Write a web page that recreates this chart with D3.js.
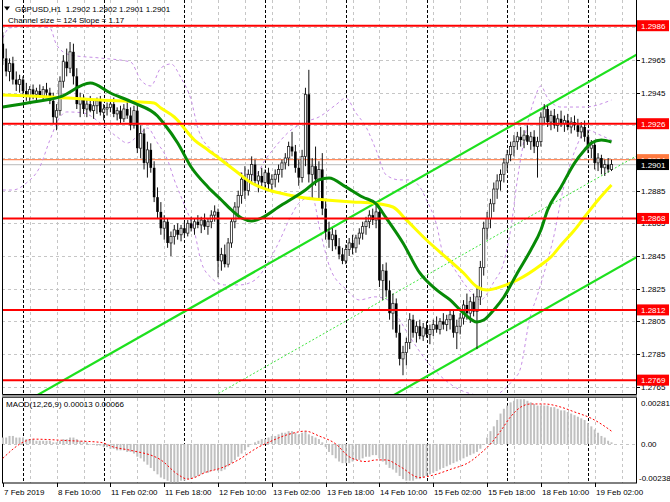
<!DOCTYPE html>
<html><head><meta charset="utf-8">
<script src="https://cdn.jsdelivr.net/npm/d3@7"></script>
<style>
html,body{margin:0;padding:0;background:#fff;}
svg{display:block;font-family:"Liberation Sans",Arial,sans-serif;}
text{white-space:pre;}
</style></head><body>
<svg id="c" width="670" height="502"></svg>
<script>
// ---------------- DATA ----------------
const symbolTitle = "GBPUSD,H1  1.2902 1.2902 1.2901 1.2901";
const channelTitle = "Channel size = 124 Slope = 1.17";
const macdTitle = "MACD(12,26,9) 0.00013 0.00066";

const timeLabels = ["7 Feb 2019","8 Feb 10:00","11 Feb 02:00","11 Feb 18:00","12 Feb 10:00","13 Feb 02:00","13 Feb 18:00","14 Feb 10:00","15 Feb 02:00","15 Feb 18:00","18 Feb 10:00","19 Feb 02:00"];
const timeLabelBars = [0,16,32,48,64,80,96,112,128,144,160,176];
const daySeparatorBars = [6,30,54,78,102,126,150,174];
const priceTicks = [1.2765,1.2785,1.2805,1.2825,1.2845,1.2865,1.2885,1.2905,1.2925,1.2945,1.2965,1.2985];
const levels = [1.2986,1.2926,1.2868,1.2812,1.2769];
const bidPrice = 1.2901, askPrice = 1.2904;
const macdAxisValues = [0.00281, 0, -0.00238];
const macdAxisLabels = ["0.00281","0.00","-0.00238"];

const opens = [
1.2975,1.2966,1.2958,1.2963,1.2953,1.2950,1.2953,1.2946,1.2943,1.2947,
1.2944,1.2946,1.2943,1.2947,1.2945,1.2940,1.2930,1.2934,1.2952,1.2964,
1.2960,1.2970,1.2955,1.2938,1.2941,1.2935,1.2938,1.2934,1.2937,1.2940,
1.2933,1.2935,1.2936,1.2938,1.2932,1.2934,1.2929,1.2935,1.2931,1.2925,
1.2934,1.2911,1.2920,1.2902,1.2910,1.2899,1.2881,1.2872,1.2862,1.2866,
1.2853,1.2857,1.2861,1.2858,1.2862,1.2859,1.2865,1.2862,1.2866,1.2864,
1.2867,1.2863,1.2866,1.2870,1.2872,1.2842,1.2846,1.2840,1.2853,1.2866,
1.2875,1.2882,1.2892,1.2885,1.2895,1.2901,1.2891,1.2894,1.2890,1.2896,
1.2889,1.2892,1.2895,1.2898,1.2902,1.2905,1.2912,1.2909,1.2899,1.2893,
1.2906,1.2944,1.2895,1.2900,1.2892,1.2898,1.2874,1.2860,1.2855,1.2858,
1.2851,1.2846,1.2842,1.2849,1.2853,1.2850,1.2856,1.2859,1.2863,1.2866,
1.2870,1.2867,1.2872,1.2830,1.2836,1.2824,1.2810,1.2816,1.2798,1.2782,
1.2786,1.2792,1.2806,1.2798,1.2802,1.2796,1.2801,1.2797,1.2800,1.2803,
1.2800,1.2805,1.2803,1.2806,1.2809,1.2798,1.2802,1.2807,1.2815,1.2810,
1.2817,1.2811,1.2820,1.2838,1.2862,1.2868,1.2877,1.2886,1.2891,1.2895,
1.2902,1.2907,1.2912,1.2915,1.2918,1.2916,1.2919,1.2915,1.2918,1.2912,
1.2915,1.2930,1.2935,1.2927,1.2931,1.2925,1.2929,1.2926,1.2928,1.2924,
1.2927,1.2925,1.2921,1.2924,1.2918,1.2911,1.2913,1.2902,1.2905,1.2899,
1.2901,1.2898];
const highs = [
1.2982,1.2972,1.2966,1.2967,1.2958,1.2956,1.2955,1.2951,1.2949,1.2950,
1.2948,1.2950,1.2949,1.2951,1.2948,1.2945,1.2938,1.2955,1.2968,1.2972,
1.2976,1.2975,1.2960,1.2945,1.2944,1.2941,1.2943,1.2940,1.2942,1.2943,
1.2938,1.2939,1.2940,1.2942,1.2936,1.2937,1.2938,1.2940,1.2936,1.2937,
1.2938,1.2925,1.2923,1.2915,1.2914,1.2903,1.2887,1.2878,1.2870,1.2868,
1.2860,1.2864,1.2865,1.2864,1.2866,1.2867,1.2869,1.2868,1.2870,1.2869,
1.2871,1.2868,1.2873,1.2876,1.2874,1.2850,1.2852,1.2856,1.2868,1.2878,
1.2885,1.2896,1.2900,1.2898,1.2906,1.2904,1.2897,1.2899,1.2898,1.2899,
1.2895,1.2898,1.2901,1.2904,1.2908,1.2915,1.2921,1.2913,1.2904,1.2910,
1.2948,1.2959,1.2905,1.2912,1.2903,1.2908,1.2880,1.2866,1.2862,1.2861,
1.2856,1.2850,1.2852,1.2856,1.2858,1.2858,1.2862,1.2866,1.2869,1.2873,
1.2874,1.2876,1.2874,1.2840,1.2841,1.2830,1.2822,1.2819,1.2803,1.2790,
1.2795,1.2810,1.2809,1.2805,1.2806,1.2804,1.2805,1.2803,1.2806,1.2808,
1.2807,1.2810,1.2809,1.2812,1.2812,1.2806,1.2810,1.2818,1.2822,1.2820,
1.2822,1.2826,1.2842,1.2866,1.2872,1.2880,1.2890,1.2895,1.2898,1.2905,
1.2910,1.2915,1.2919,1.2921,1.2924,1.2922,1.2925,1.2921,1.2922,1.2918,
1.2933,1.2938,1.2937,1.2934,1.2935,1.2932,1.2934,1.2931,1.2932,1.2930,
1.2931,1.2929,1.2927,1.2928,1.2922,1.2916,1.2915,1.2908,1.2907,1.2904,
1.2905,1.2904];
const lows = [
1.2962,1.2955,1.2952,1.2950,1.2946,1.2945,1.2943,1.2940,1.2940,1.2941,
1.2939,1.2942,1.2941,1.2943,1.2938,1.2926,1.2922,1.2931,1.2948,1.2955,
1.2957,1.2950,1.2935,1.2930,1.2932,1.2930,1.2933,1.2929,1.2932,1.2931,
1.2928,1.2931,1.2933,1.2930,1.2928,1.2926,1.2927,1.2929,1.2922,1.2923,
1.2908,1.2905,1.2898,1.2893,1.2896,1.2878,1.2868,1.2858,1.2855,1.2850,
1.2845,1.2852,1.2855,1.2854,1.2856,1.2857,1.2860,1.2858,1.2862,1.2859,
1.2861,1.2858,1.2862,1.2866,1.2832,1.2836,1.2838,1.2838,1.2850,1.2862,
1.2868,1.2877,1.2880,1.2882,1.2889,1.2888,1.2884,1.2887,1.2886,1.2886,
1.2884,1.2887,1.2890,1.2893,1.2898,1.2900,1.2906,1.2896,1.2888,1.2890,
1.2900,1.2890,1.2880,1.2888,1.2880,1.2870,1.2855,1.2850,1.2848,1.2849,
1.2843,1.2840,1.2840,1.2845,1.2846,1.2847,1.2852,1.2855,1.2858,1.2862,
1.2864,1.2862,1.2826,1.2818,1.2820,1.2806,1.2800,1.2795,1.2778,1.2772,
1.2778,1.2788,1.2795,1.2792,1.2794,1.2793,1.2795,1.2791,1.2796,1.2798,
1.2797,1.2800,1.2799,1.2800,1.2795,1.2788,1.2797,1.2803,1.2806,1.2804,
1.2808,1.2788,1.2815,1.2833,1.2855,1.2862,1.2872,1.2880,1.2885,1.2890,
1.2897,1.2903,1.2906,1.2910,1.2912,1.2911,1.2913,1.2910,1.2908,1.2893,
1.2912,1.2926,1.2924,1.2922,1.2923,1.2921,1.2924,1.2921,1.2922,1.2920,
1.2922,1.2918,1.2917,1.2915,1.2908,1.2905,1.2898,1.2897,1.2895,1.2894,
1.2896,1.2897];
const closes = [
1.2966,1.2958,1.2963,1.2953,1.2950,1.2953,1.2946,1.2943,1.2947,1.2944,
1.2946,1.2943,1.2947,1.2945,1.2940,1.2930,1.2934,1.2952,1.2964,1.2960,
1.2970,1.2955,1.2938,1.2941,1.2935,1.2938,1.2934,1.2937,1.2940,1.2933,
1.2935,1.2936,1.2938,1.2932,1.2934,1.2929,1.2935,1.2931,1.2925,1.2934,
1.2911,1.2920,1.2902,1.2910,1.2899,1.2881,1.2872,1.2862,1.2866,1.2853,
1.2857,1.2861,1.2858,1.2862,1.2859,1.2865,1.2862,1.2866,1.2864,1.2867,
1.2863,1.2866,1.2870,1.2872,1.2842,1.2846,1.2840,1.2853,1.2866,1.2875,
1.2882,1.2892,1.2885,1.2895,1.2901,1.2891,1.2894,1.2890,1.2896,1.2889,
1.2892,1.2895,1.2898,1.2902,1.2905,1.2912,1.2909,1.2899,1.2893,1.2906,
1.2944,1.2895,1.2900,1.2892,1.2898,1.2874,1.2860,1.2855,1.2858,1.2851,
1.2846,1.2842,1.2849,1.2853,1.2850,1.2856,1.2859,1.2863,1.2866,1.2870,
1.2867,1.2872,1.2830,1.2836,1.2824,1.2810,1.2816,1.2798,1.2782,1.2786,
1.2792,1.2806,1.2798,1.2802,1.2796,1.2801,1.2797,1.2800,1.2803,1.2800,
1.2805,1.2803,1.2806,1.2809,1.2798,1.2802,1.2807,1.2815,1.2810,1.2817,
1.2811,1.2820,1.2838,1.2862,1.2868,1.2877,1.2886,1.2891,1.2895,1.2902,
1.2907,1.2912,1.2915,1.2918,1.2916,1.2919,1.2915,1.2918,1.2912,1.2915,
1.2930,1.2935,1.2927,1.2931,1.2925,1.2929,1.2926,1.2928,1.2924,1.2927,
1.2925,1.2921,1.2924,1.2918,1.2911,1.2913,1.2902,1.2905,1.2899,1.2901,
1.2898,1.2901];

// moving averages: [bar, price]
const maGreen = [[0,1.29362],[9,1.29393],[17,1.29424],[26,1.29509],[32,1.29448],[39,1.29387],[46,1.29307],[48,1.29258],[52,1.29142],[56,1.28995],[61,1.28873],[65,1.28793],[68,1.28732],[71,1.28683],[74,1.28665],[77,1.28683],[82,1.28750],[90,1.28854],[94,1.28916],[97,1.28928],[102,1.28873],[107,1.28811],[111,1.28769],[114,1.28683],[119,1.28530],[124,1.28346],[129,1.28242],[133,1.28181],[137,1.28101],[141,1.28046],[143,1.28058],[146,1.28120],[149,1.28199],[153,1.28346],[157,1.28487],[160,1.28609],[162,1.28732],[166,1.28873],[170,1.29019],[173,1.29099],[175,1.29142],[178,1.29160],[181,1.29148]];
const maYellow = [[0,1.29436],[14,1.29424],[29,1.29405],[41,1.29393],[45,1.29387],[47,1.29356],[51,1.29301],[57,1.29160],[61,1.29099],[65,1.29038],[70,1.28958],[74,1.28897],[79,1.28854],[85,1.28824],[90,1.28805],[96,1.28793],[104,1.28781],[110,1.28775],[116,1.28750],[120,1.28671],[126,1.28548],[133,1.28420],[137,1.28346],[141,1.28261],[144,1.28242],[148,1.28261],[153,1.28303],[160,1.28395],[163,1.28444],[166,1.28517],[170,1.28609],[173,1.28689],[177,1.28793],[181,1.28885]];
const bandUpper = [[0,1.29785],[2,1.29846],[8,1.29858],[14,1.29846],[16,1.29742],[20,1.29681],[29,1.29662],[38,1.29638],[41,1.29528],[44,1.29491],[47,1.29601],[50,1.29626],[53,1.29540],[56,1.29405],[58,1.29234],[62,1.29099],[66,1.29038],[70,1.28965],[75,1.28946],[78,1.29038],[81,1.29118],[85,1.29209],[90,1.29271],[94,1.29301],[99,1.29375],[102,1.29417],[105,1.29326],[108,1.29240],[111,1.29099],[114,1.28946],[118,1.28916],[121,1.28916],[124,1.28873],[126,1.28793],[129,1.28640],[131,1.28457],[133,1.28408],[137.5,1.28273],[142,1.28181],[146,1.28291],[149,1.28414],[151,1.28610],[153,1.28916],[155.3,1.29191],[158,1.29405],[160,1.29491],[162,1.29417],[166,1.29362],[173,1.29362],[181,1.29405]];
const bandLower = [[0,1.28854],[3,1.28854],[7,1.28897],[11,1.28995],[14,1.29160],[17,1.29301],[19,1.29332],[24,1.29326],[29,1.29264],[34,1.29179],[37,1.29142],[41,1.29203],[43,1.29234],[46,1.29142],[49,1.29038],[51,1.28916],[54,1.28763],[57,1.28597],[59,1.28414],[62,1.28316],[66,1.28273],[70.5,1.28273],[75,1.28303],[79,1.28414],[82.4,1.28548],[85.4,1.28683],[88.4,1.28781],[92,1.28812],[94.3,1.28610],[97.3,1.28377],[102.3,1.28242],[106,1.28181],[110.7,1.28200],[114.5,1.28181],[118,1.28059],[122.6,1.27906],[127,1.27783],[131.5,1.27691],[136,1.27630],[140.4,1.27600],[145,1.27581],[147.8,1.27612],[151.7,1.27691],[153.8,1.27753],[156.8,1.28077],[158.8,1.28200],[161.8,1.28408],[163.6,1.28548],[166.6,1.28854],[170.2,1.29099],[173.7,1.29222],[177.6,1.29191],[181.5,1.29154]];

// regression channel: centre line at first / last bar, half width
const channelBars = [0,181];
const channelMid = [1.26858,1.28976];
const channelHalf = 0.0062;

// MACD
const macdHist = [
0.0004,0.0004,0.0005,0.0005,0.0004,0.0004,0.0004,0.0003,
0.0003,0.0003,0.0002,0.0002,0.0002,0.0002,0.0002,0.0001,
0.0001,0.0002,0.0003,0.0003,0.0004,0.0004,0.0003,0.0002,
0.0001,0.0001,0.0000,0.0000,-0.0001,-0.0001,
-0.0002,-0.0002,-0.0003,-0.0003,-0.0004,-0.0004,-0.0004,-0.0005,
-0.0005,-0.0006,-0.0008,-0.0009,-0.0011,-0.0013,-0.0015,-0.0017,
-0.0019,-0.0021,-0.0022,-0.0023,-0.0024,-0.0024,-0.0024,-0.0023,
-0.0023,-0.0022,-0.0022,-0.0021,-0.0020,-0.0019,-0.0018,-0.0018,
-0.0017,-0.0016,-0.0017,-0.0017,-0.0016,-0.0014,-0.0012,-0.0010,
-0.0008,-0.0006,-0.0004,-0.0002,0.0000,0.0001,0.0002,0.0003,
0.0003,0.0004,0.0005,0.0005,0.0006,0.0007,0.0007,0.0008,
0.0008,0.0007,0.0006,0.0007,0.0008,0.0006,0.0005,0.0004,
0.0003,0.0001,-0.0002,-0.0005,-0.0007,-0.0009,-0.0011,-0.0012,
-0.0012,-0.0012,-0.0011,-0.0010,-0.0010,-0.0009,-0.0008,-0.0008,
-0.0007,-0.0007,-0.0009,-0.0011,-0.0013,-0.0015,-0.0016,-0.0018,
-0.0020,-0.0022,-0.0023,-0.0023,-0.0023,-0.0022,-0.0022,-0.0021,
-0.0020,-0.0019,-0.0018,-0.0017,-0.0016,-0.0015,-0.0014,-0.0013,
-0.0012,-0.0011,-0.0010,-0.0009,-0.0008,-0.0007,-0.0006,-0.0005,
-0.0003,0.0000,0.0004,0.0008,0.0011,0.0015,0.0019,0.0022,
0.0024,0.0026,0.0027,0.0028,0.0028,0.0028,0.0027,0.0026,
0.0025,0.0024,0.0024,0.0024,0.0024,0.0023,0.0023,0.0022,
0.0021,0.0021,0.0020,0.0019,0.0018,0.0017,0.0016,0.0015,
0.0013,0.0011,0.0009,0.0007,0.0005,0.0004,0.0002,0.0001];
const macdSignal = [[0,-0.0009],[7,0.0002],[9,0.0003],[20,0.0002],[29,0.0001],[33,-0.0002],[38,-0.0004],[47,-0.0010],[52,-0.0019],[55,-0.0022],[57,-0.0021],[60,-0.0018],[65,-0.0015],[70,-0.0010],[76,-0.0002],[79,0.0001],[85,0.0006],[90,0.0008],[94,0.0005],[99,0.0000],[103,-0.0008],[108,-0.0011],[111,-0.0010],[114,-0.0010],[118,-0.0014],[124,-0.0021],[127,-0.0020],[133,-0.0016],[139,-0.0011],[142,-0.0006],[145,0.0000],[148,0.0008],[151,0.0017],[154,0.0023],[157,0.0025],[161,0.0025],[166,0.0023],[170,0.0020],[175,0.0016],[179,0.0011],[181,0.0008]];

// ---------------- LAYOUT ----------------
const L = 2, R = 636, mainTop = 0, mainBot = 394, macdTop = 398, macdBot = 483;
const svg = d3.select('#c');
const x = d3.scaleLinear().domain([0, 181]).range([2.8, 611.5]);
const y = d3.scaleLinear().domain([1.276051, 1.300174]).range([mainBot, mainTop]);
const ym = d3.scaleLinear().domain([-0.00238, 0.00281]).range([482, 399]);

const defs = svg.append('defs');
defs.append('clipPath').attr('id','mclip').append('rect').attr('x',L).attr('y',mainTop).attr('width',R-L).attr('height',mainBot-mainTop);
defs.append('clipPath').attr('id','dclip').append('rect').attr('x',L).attr('y',macdTop).attr('width',R-L).attr('height',macdBot-macdTop);

const gridColor = '#c6c6c6';
// vertical grid
const gridBars = d3.range(8, 189, 8);
const gGrid = svg.append('g');
gridBars.forEach(b => {
  const gx = Math.round(x(b)) + 0.5;
  [[mainTop, mainBot],[macdTop, macdBot]].forEach(([a,bb]) => {
    gGrid.append('line').attr('x1',gx).attr('x2',gx).attr('y1',a).attr('y2',bb)
      .attr('stroke',gridColor).attr('stroke-dasharray','3,3');
  });
});
// horizontal grid
priceTicks.forEach(p => {
  const gy = Math.round(y(p)) + 0.5;
  gGrid.append('line').attr('x1',L).attr('x2',R).attr('y1',gy).attr('y2',gy)
    .attr('stroke',gridColor).attr('stroke-dasharray','3,3');
});
gGrid.append('line').attr('x1',L).attr('x2',R).attr('y1',Math.round(ym(0))+0.5).attr('y2',Math.round(ym(0))+0.5)
  .attr('stroke',gridColor).attr('stroke-dasharray','3,3');
// day separators
daySeparatorBars.forEach(b => {
  const gx = Math.round(x(b)) + 0.5;
  [[mainTop, mainBot],[macdTop, macdBot]].forEach(([a,bb]) => {
    gGrid.append('line').attr('x1',gx).attr('x2',gx).attr('y1',a).attr('y2',bb)
      .attr('stroke','#000').attr('stroke-dasharray','3,2');
  });
});

const gMain = svg.append('g').attr('clip-path','url(#mclip)');

// bid / ask lines
gMain.append('line').attr('x1',L).attr('x2',R).attr('y1',y(askPrice)).attr('y2',y(askPrice)).attr('stroke','#ff8a5c').attr('stroke-width',1.2);
gMain.append('line').attr('x1',L).attr('x2',R).attr('y1',y(bidPrice)).attr('y2',y(bidPrice)).attr('stroke','#c8c8c8').attr('stroke-width',1.2);

// bands
const lineP = d3.line().x(d => x(d[0])).y(d => y(d[1])).curve(d3.curveMonotoneX);
[bandUpper, bandLower].forEach(b => {
  gMain.append('path').attr('d', lineP(b)).attr('fill','none').attr('stroke','#c78fe6')
    .attr('stroke-width',1).attr('stroke-dasharray','3,3');
});

// channel
const xEnd = x.invert(R + 2);
const midScale = d3.scaleLinear().domain(channelBars).range(channelMid);
const chan = (off) => [[channelBars[0], midScale(channelBars[0]) + off], [xEnd, midScale(xEnd) + off]];
const lineRaw = d3.line().x(d => x(d[0])).y(d => y(d[1]));
gMain.append('path').attr('d', lineRaw(chan(0))).attr('stroke','#3ee63e').attr('stroke-width',1).attr('stroke-dasharray','2,2').attr('fill','none');
[channelHalf, -channelHalf].forEach(o => {
  gMain.append('path').attr('d', lineRaw(chan(o))).attr('stroke','#1ee01e').attr('stroke-width',2.2).attr('fill','none');
});

// candles
const gC = gMain.append('g');
closes.forEach((c, i) => {
  const o = opens[i], h = highs[i], l = lows[i];
  const cx = x(i);
  gC.append('line').attr('x1',cx).attr('x2',cx).attr('y1',y(h)).attr('y2',y(l)).attr('stroke','#111').attr('stroke-width',1);
  const top = y(Math.max(o,c)), bh = Math.max(1, Math.abs(y(o)-y(c)));
  if (c >= o) {
    gC.append('rect').attr('x',cx-1.1).attr('y',top).attr('width',2.2).attr('height',bh)
      .attr('fill','#fff').attr('stroke','#222').attr('stroke-width',0.8);
  } else {
    gC.append('rect').attr('x',cx-1.3).attr('y',top).attr('width',2.6).attr('height',bh).attr('fill','#000');
  }
});

// moving averages
gMain.append('path').attr('d', lineP(maYellow)).attr('fill','none').attr('stroke','#ffff00').attr('stroke-width',3);
gMain.append('path').attr('d', lineP(maGreen)).attr('fill','none').attr('stroke','#078a07').attr('stroke-width',3);

// horizontal levels
levels.forEach(p => {
  gMain.append('line').attr('x1',L).attr('x2',R).attr('y1',y(p)).attr('y2',y(p)).attr('stroke','#ff0000').attr('stroke-width',2);
});

// frames
const frame = svg.append('g').attr('fill','none').attr('stroke','#000');
frame.append('path').attr('d',`M${L+0.5},0V${mainBot+0.5}H${R+0.5}V0`);
svg.append('rect').attr('x',L).attr('y',mainBot+1).attr('width',R-L+1).attr('height',macdTop-mainBot-1.5).attr('fill','#9a9a9a');
frame.append('rect').attr('x',L+0.5).attr('y',macdTop-0.5).attr('width',R-L).attr('height',macdBot-macdTop+0.5);

// titles
svg.append('path').attr('d','M4,6.5H10L7,10.5Z').attr('fill','#000');
svg.append('text').attr('x',15).attr('y',11.5).attr('font-size',8).text(symbolTitle);
svg.append('text').attr('x',8).attr('y',22.5).attr('font-size',8).text(channelTitle);

// MACD
const gD = svg.append('g').attr('clip-path','url(#dclip)');
macdHist.forEach((v, i) => {
  gD.append('rect').attr('x',x(i)-1).attr('width',2)
    .attr('y',ym(Math.max(v,0))).attr('height',Math.max(0.5, Math.abs(ym(v)-ym(0))))
    .attr('fill','#c0c0c0');
});
gD.append('path').attr('d', d3.line().x(d=>x(d[0])).y(d=>ym(d[1])).curve(d3.curveMonotoneX)(macdSignal))
  .attr('fill','none').attr('stroke','#ff0000').attr('stroke-width',1).attr('stroke-dasharray','2,2');
svg.append('text').attr('x',6).attr('y',407).attr('font-size',8).text(macdTitle);

// right axis labels (a tick label fully covered by a marker box is not drawn)
const boxed = levels.concat([askPrice, bidPrice]);
const gA = svg.append('g').attr('font-size',8);
priceTicks.forEach(p => {
  const ty = y(p);
  gA.append('line').attr('x1',R).attr('x2',R+4).attr('y1',Math.round(ty)+0.5).attr('y2',Math.round(ty)+0.5).attr('stroke','#000');
  const covered = boxed.some(b => Math.abs(y(b) - ty) < 4);
  if (!covered) gA.append('text').attr('x',641).attr('y',ty+3).text(p.toFixed(4));
});
function box(p, fill) {
  const ty = y(p);
  gA.append('rect').attr('x',637).attr('y',ty-5.5).attr('width',32).attr('height',11).attr('fill',fill);
  gA.append('text').attr('x',641).attr('y',ty+3).attr('fill','#fff').text(p.toFixed(4));
}
levels.forEach(p => box(p, '#ff0000'));
box(askPrice, '#ff7a40');
box(bidPrice, '#000');

macdAxisValues.forEach((v, k) => {
  const ty = ym(v);
  const off = k === 0 ? 7 : (k === 1 ? 3 : -1);
  gA.append('text').attr('x', v < 0 ? 639 : 641).attr('y', ty + off).text(macdAxisLabels[k]);
});

// time axis
const gT = svg.append('g').attr('font-size',8);
timeLabelBars.forEach((b, k) => {
  const tx = Math.round(x(b)) + 0.5;
  gT.append('line').attr('x1',tx).attr('x2',tx).attr('y1',macdBot).attr('y2',macdBot+4).attr('stroke','#000');
  gT.append('text').attr('x',tx+0.5).attr('y',495).text(timeLabels[k]);
});
</script>
</body></html>
